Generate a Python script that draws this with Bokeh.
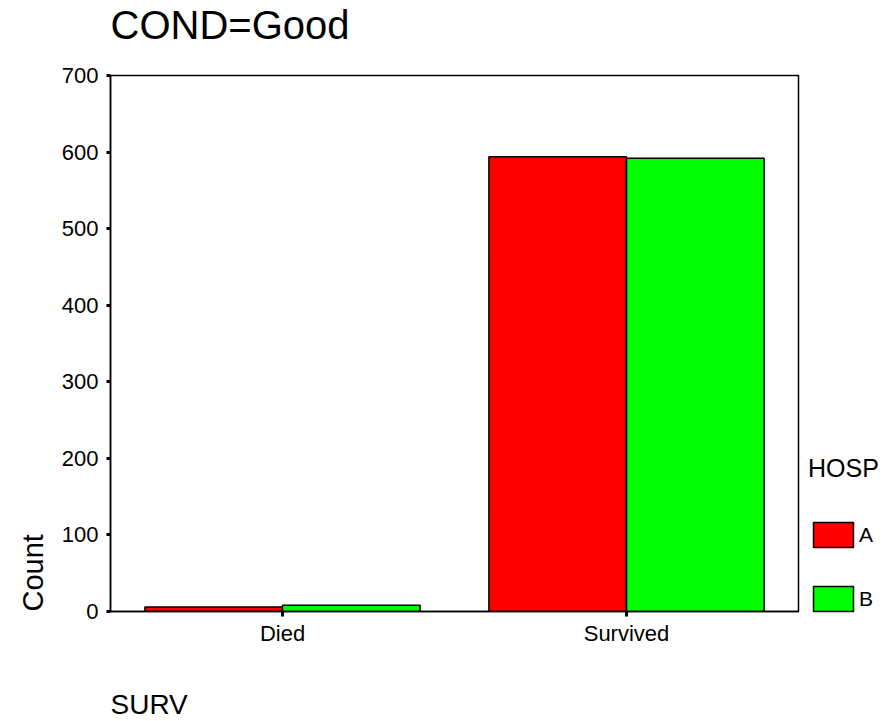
from bokeh.plotting import figure
from bokeh.models import (ColumnDataSource, FactorRange, Range1d, Legend, LegendItem,
                          Title, FixedTicker)
from bokeh.transform import dodge
from bokeh.embed import file_html
from bokeh.resources import INLINE

# ---- data ----
surv = ["Died", "Survived"]
hosp_a = [6, 594]
hosp_b = [8, 592]
y_ticks = [0, 100, 200, 300, 400, 500, 600, 700]
title_text = "COND=Good"
x_title = "SURV"
y_title = "Count"
legend_title = "HOSP"
series_names = ["A", "B"]

FONT = "Liberation Sans"

src = ColumnDataSource(dict(surv=surv, a=hosp_a, b=hosp_b))

p = figure(x_range=FactorRange(factors=surv), y_range=Range1d(0, 700),
           frame_width=688, frame_height=536,
           width=888, height=721,
           output_backend="svg", toolbar_location=None,
           min_border_left=110, min_border_top=75, min_border_bottom=110,
           min_border_right=90)
p.x_range.range_padding = 0

ra = p.vbar(x=dodge("surv", -0.2, range=p.x_range), top="a", width=0.4, source=src,
            fill_color="#ff0000", line_color="black", line_width=1.5)
rb = p.vbar(x=dodge("surv", 0.2, range=p.x_range), top="b", width=0.4, source=src,
            fill_color="#00ff00", line_color="black", line_width=1.5)

p.xgrid.visible = False
p.ygrid.visible = False
p.outline_line_color = "black"
p.outline_line_width = 1.5
p.background_fill_color = "white"
p.border_fill_color = "white"

for ax in (p.xaxis[0], p.yaxis[0]):
    ax.axis_line_color = "black"
    ax.axis_line_width = 1.5
    ax.major_tick_line_color = "black"
    ax.major_tick_line_width = 3
    ax.major_tick_in = 0
    ax.minor_tick_line_color = None
    ax.major_label_text_font = FONT
    ax.major_label_text_font_size = "22px"
    ax.major_label_text_color = "black"

p.yaxis[0].ticker = FixedTicker(ticks=y_ticks)
p.yaxis[0].major_tick_out = 4
p.yaxis[0].major_label_standoff = 8
p.xaxis[0].major_tick_out = 5
p.xaxis[0].major_label_standoff = 4
p.xaxis[0].group_text_font_size = "0px"

# main title
p.title.text = title_text
p.title.align = "left"
p.title.offset = 0
p.title.standoff = 0
p.title.text_font = FONT
p.title.text_font_size = "40px"
p.title.text_font_style = "normal"
p.title.text_color = "black"

# spacer between title and frame
p.add_layout(Title(text=" ", text_font=FONT, text_font_size="20px", standoff=5), "above")

# x-axis title (bottom-left)
p.add_layout(Title(text=x_title, align="left", standoff=77, text_font=FONT,
                   text_font_size="28px", text_font_style="normal",
                   text_color="black"), "below")
# y-axis title (left, near bottom)
p.add_layout(Title(text=y_title, align="left", standoff=20, text_font=FONT,
                   text_font_size="29px", text_font_style="normal",
                   text_color="black"), "left")

legend = Legend(items=[LegendItem(label=series_names[0], renderers=[ra]),
                       LegendItem(label=series_names[1], renderers=[rb])],
                title=legend_title, location=(10, -3), orientation="vertical",
                glyph_width=50, glyph_height=31, spacing=33, padding=0, margin=0,
                label_standoff=1, label_text_font=FONT, label_text_font_size="21px",
                label_text_color="black",
                title_text_font=FONT, title_text_font_size="25px",
                title_text_color="black",
                title_text_font_style="normal", title_standoff=36,
                border_line_alpha=0, background_fill_alpha=0)
p.add_layout(legend, "right")

html = file_html(p, INLINE)
open("out.html", "w").write(html)
